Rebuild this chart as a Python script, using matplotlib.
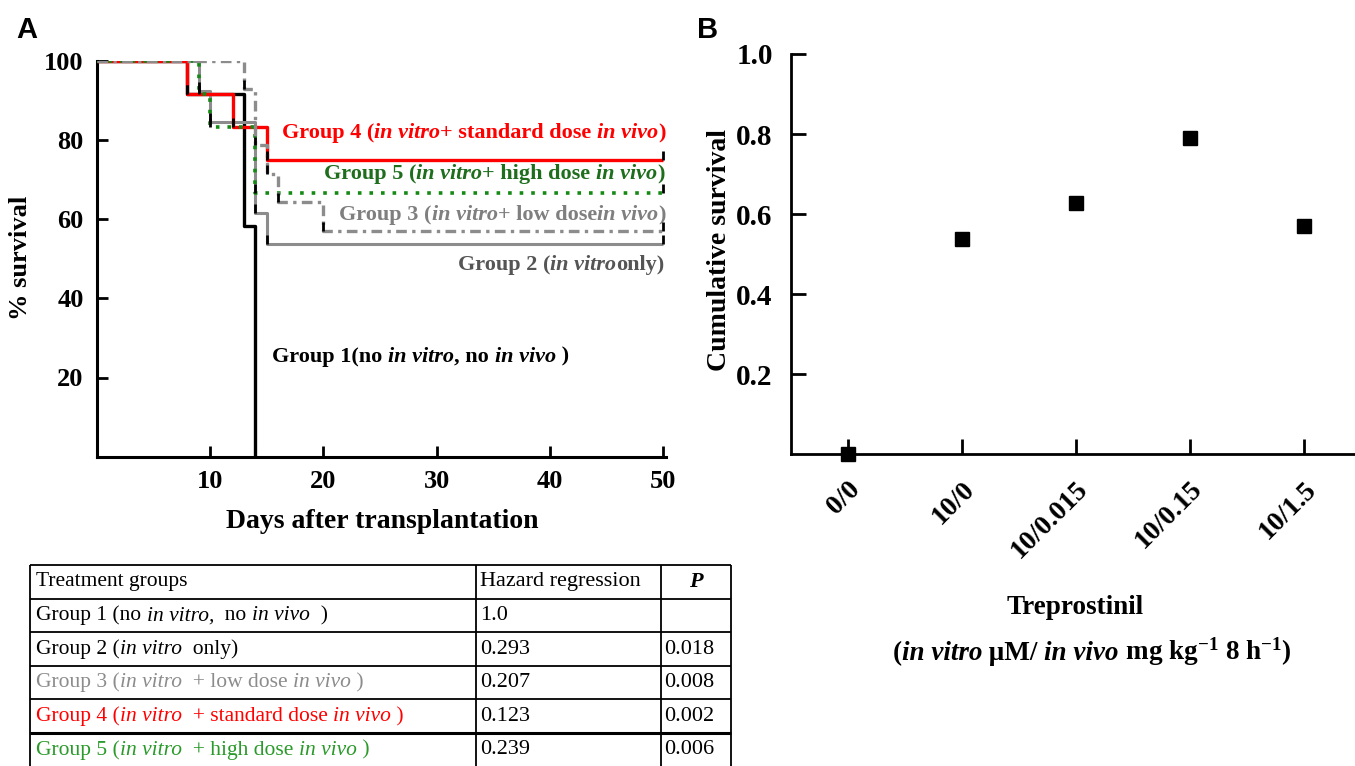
import matplotlib
matplotlib.use("Agg")
import matplotlib.pyplot as plt
from matplotlib.offsetbox import TextArea, HPacker, AnnotationBbox

plt.rcParams['font.family'] = ['Liberation Serif', 'DejaVu Serif']
plt.rcParams['font.weight'] = 'bold'
plt.rcParams['mathtext.fontset'] = 'custom'
plt.rcParams['mathtext.rm'] = 'Liberation Serif:bold'
plt.rcParams['mathtext.it'] = 'Liberation Serif:bold:italic'
plt.rcParams['mathtext.bf'] = 'Liberation Serif:bold'

# panel A: Kaplan-Meier steps (day of drop, % survival after it)
end_day = 50
days_g1 = [0, 8, 13, 14]
surv_g1 = [100, 91.7, 58.3, 0]
days_g2 = [0, 9, 10, 14, 15]
surv_g2 = [100, 92.3, 84.6, 61.5, 53.8]
days_g3 = [0, 13, 14, 15, 16, 20]
surv_g3 = [100, 92.9, 78.6, 71.4, 64.3, 57.1]
days_g4 = [0, 8, 12, 15]
surv_g4 = [100, 91.7, 83.3, 75.0]
days_g5 = [0, 9, 10, 14]
surv_g5 = [100, 91.7, 83.3, 66.7]

# panel B
dose_labels = ["0/0", "10/0", "10/0.015", "10/0.15", "10/1.5"]
cum_survival = [0.0, 0.538, 0.627, 0.790, 0.570]

# table
tbl_header = ["Treatment groups", "Hazard regression", "P"]
tbl_hazard = ["1.0", "0.293", "0.207", "0.123", "0.239"]
tbl_p = ["", "0.018", "0.008", "0.002", "0.006"]
tbl_colors = ["black", "black", "#8c8c8c", "#ff0000", "#2a9a2a"]
tbl_groups = [
    [("Group 1 (no ", 0), ("in vitro,", 1), ("  no ", 0), ("in vivo", 1), ("  )", 0)],
    [("Group 2 (", 0), ("in vitro", 1), ("  only)", 0)],
    [("Group 3 (", 0), ("in vitro", 1), ("  + low dose ", 0), ("in vivo", 1), (" )", 0)],
    [("Group 4 (", 0), ("in vitro", 1), ("  + standard dose ", 0), ("in vivo", 1), (" )", 0)],
    [("Group 5 (", 0), ("in vitro", 1), ("  + high dose ", 0), ("in vivo", 1), (" )", 0)],
]

W, H = 1355, 766
fig = plt.figure(figsize=(W / 100, H / 100), dpi=100)


def rich(target, pieces, xy, coords, align, size, weight, color):
    boxes = [TextArea(t, textprops=dict(fontsize=size, fontweight=weight, color=color,
                                        fontstyle='italic' if it else 'normal'))
             for t, it in pieces]
    pack = HPacker(children=boxes, align='baseline', pad=0, sep=0)
    ab = AnnotationBbox(pack, xy, xycoords=coords, box_alignment=align,
                        frameon=False, pad=0, annotation_clip=False)
    target.add_artist(ab)


# ---------------- panel A ----------------
axA = fig.add_axes([96.7 / W, 1 - 456.7 / H, (666 - 96.7) / W, 396 / H])
series = [
    (days_g1, surv_g1, dict(color='black', lw=2.4), 2, False),
    (days_g2, surv_g2, dict(color='#8c8c8c', lw=2.2), 3, True),
    (days_g4, surv_g4, dict(color='#ff0000', lw=2.4), 4, True),
    (days_g5, surv_g5, dict(color='#148a14', lw=2.6, linestyle=(0, (1, 2.2))), 5, True),
    (days_g3, surv_g3, dict(color='#8c8c8c', lw=2.4, linestyle=(0, (3.2, 1.6, 1, 1.6))), 6, True),
]
for d, s, style, z, extend in series:
    xs = list(d) + ([end_day] if extend else [])
    ys = list(s) + ([s[-1]] if extend else [])
    axA.step(xs, ys, where='post', zorder=z, solid_capstyle='butt', **style)
    # small black marks at each step and at the end of follow-up
    axA.vlines(d[1:], [v for v in s[1:]], [v + 2.2 for v in s[1:]], color='black', lw=2, zorder=7)
    if extend:
        axA.vlines([end_day], [s[-1]], [s[-1] + 2.2], color='black', lw=2, zorder=7)

axA.set_xlim(0, 50.25)
axA.set_ylim(0, 100)
axA.set_xticks([10, 20, 30, 40, 50])
axA.set_yticks([20, 40, 60, 80, 100])
for sp in ['top', 'right']:
    axA.spines[sp].set_visible(False)
for sp in ['left', 'bottom']:
    axA.spines[sp].set_linewidth(2.2)
axA.tick_params(direction='in', length=8, width=2, labelsize=19, pad=9.5)

label_font = 16
rich(axA, [("Group 4 (", 0), ("in vitro", 1), ("+ standard dose ", 0), ("in vivo", 1), (")", 0)],
     (50.2, 81.7), 'data', (1, 0.5), label_font, 'bold', '#ff0000')
rich(axA, [("Group 5 (", 0), ("in vitro", 1), ("+ high dose ", 0), ("in vivo", 1), (")", 0)],
     (50.1, 71.3), 'data', (1, 0.5), label_font, 'bold', '#1e6e1e')
rich(axA, [("Group 3 (", 0), ("in vitro", 1), ("+ low dose", 0), ("in vivo", 1), (")", 0)],
     (50.2, 61.0), 'data', (1, 0.5), label_font, 'bold', '#7f7f7f')
rich(axA, [("Group 2 (", 0), ("in vitro", 1), ("only)", 0)],
     (50.1, 48.4), 'data', (1, 0.5), label_font, 'bold', '#555555')
rich(axA, [("Group 1(no ", 0), ("in vitro", 1), (", no ", 0), ("in vivo", 1), (" )", 0)],
     (15.5, 25.2), 'data', (0, 0.5), label_font, 'bold', 'black')

fig.text(382 / W, 1 - 522 / H, "Days after transplantation", fontsize=20, ha='center', va='center')
fig.text(21 / W, 1 - 258 / H, "% survival", fontsize=19, rotation=90, ha='center', va='center')
fig.text(27 / W, 1 - 30 / H, "A", fontsize=21, family='Liberation Sans', ha='center', va='center')

# ---------------- panel B ----------------
axB = fig.add_axes([790.7 / W, 1 - 454.3 / H, (W - 790.7) / W, (454.3 - 54) / H])
xpos = list(range(len(dose_labels)))
axB.plot(xpos, cum_survival, linestyle='none', marker='s', markersize=10.5,
         color='black', clip_on=False, zorder=5)
axB.set_xlim(-0.5, 4.45)
axB.set_ylim(0, 1.0)
axB.set_yticks([0.2, 0.4, 0.6, 0.8, 1.0])
axB.set_yticklabels([f"{v:.1f}" for v in [0.2, 0.4, 0.6, 0.8, 1.0]])
axB.set_xticks(xpos)
axB.set_xticklabels(dose_labels, rotation=45, ha='right', rotation_mode='anchor')
for sp in ['top', 'right']:
    axB.spines[sp].set_visible(False)
for sp in ['left', 'bottom']:
    axB.spines[sp].set_linewidth(2)
axB.tick_params(direction='in', length=11, width=2)
axB.tick_params(axis='y', pad=13, labelsize=21)
axB.tick_params(axis='x', pad=16, labelsize=20)

fig.text(720 / W, 1 - 250 / H, "Cumulative survival", fontsize=20, rotation=90, ha='center', va='center')
fig.text(1075 / W, 1 - 607 / H, "Treprostinil", fontsize=19.5, ha='center', va='center')
rich(fig, [("(", 0), ("in vitro", 1), (" \u03bcM/ ", 0), ("in vivo", 1),
           (r" mg kg$^{-1}$ 8 h$^{-1}$)", 0)],
     (1092, H - 652), 'figure pixels', (0.5, 0.5), 19.5, 'bold', 'black')
fig.text(708 / W, 1 - 30 / H, "B", fontsize=21, family='Liberation Sans', ha='center', va='center')

# ---------------- table ----------------
row_h = 33.6
n_rows = 1 + len(tbl_groups)
axT = fig.add_axes([30 / W, 1 - (565 + n_rows * row_h) / H, (730.7 - 30) / W, n_rows * row_h / H])
axT.set_xlim(0, 1)
axT.set_ylim(n_rows, 0)
axT.axis('off')
col_edges = [0, (476 - 30) / 700.7, (661 - 30) / 700.7, 1]
for r in range(n_rows + 1):
    axT.hlines(r, 0, 1, color='black', lw=2.2 if r == 5 else 1.3, clip_on=False)
axT.vlines(col_edges, 0, n_rows, color='black', lw=1.3, clip_on=False)

gfont = 15.5
nfont = 16
axT.text(0.009, 0.5, tbl_header[0], fontsize=gfont, fontweight='normal', va='center')
axT.text(col_edges[1] + 0.006, 0.5, tbl_header[1], fontsize=nfont, fontweight='normal', va='center')
axT.text((col_edges[2] + col_edges[3]) / 2, 0.5, tbl_header[2], fontsize=nfont, fontweight='bold',
         fontstyle='italic', va='center', ha='center')
for i, pieces in enumerate(tbl_groups):
    y = i + 1.5
    rich(axT, pieces, (0.009, y), 'data', (0, 0.5), gfont, 'normal', tbl_colors[i])
    axT.text(col_edges[1] + 0.006, y, tbl_hazard[i], fontsize=nfont, fontweight='normal', va='center')
    axT.text(col_edges[2] + 0.004, y, tbl_p[i], fontsize=nfont, fontweight='normal', va='center')

fig.savefig("out.png", dpi=100, facecolor='white')
